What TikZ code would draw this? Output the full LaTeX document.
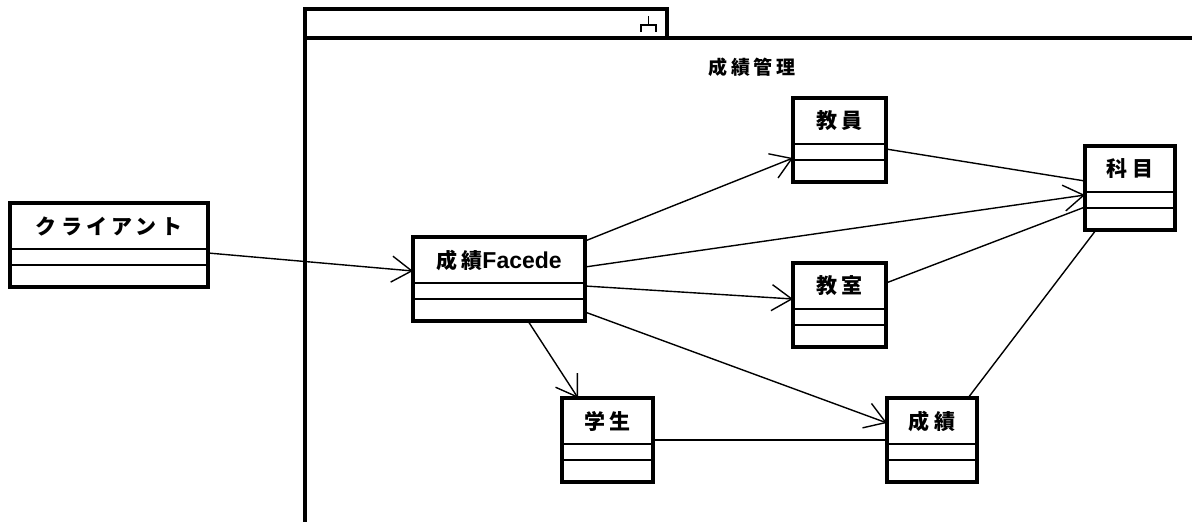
\documentclass[tikz,border=0pt]{standalone}
\usepackage{fontspec}
\setmainfont{Liberation Sans}
\newfontfamily\jp[LetterSpace=20]{Noto Sans CJK JP}
\usetikzlibrary{calc,arrows.meta}
\tikzset{
	classbox/.style={draw, line width=3.5pt, minimum height=84pt, inner sep=0pt, outer sep=0pt},
	classname/.style={font=\jp\bfseries\fontsize{21}{21}\selectfont, inner sep=0pt},
	divider/.style={line width=2.5pt},
	assoc/.style={line width=1.4pt},
	nav/.style={assoc, -{Straight Barb[length=20pt,width=26pt,line width=1.4pt]}}
}
\def\umlclass(#1)(#2,#3)(#4)#5{%
	\node[classbox, minimum width=#4pt] (#1) at (#2,#3) {};
	\node[classname] (#1-name) at ([yshift=-23pt]#1.north) {#5};
	\draw[divider] ([yshift=-46pt]#1.north west) -- ([yshift=-46pt]#1.north east);
	\draw[divider] ([yshift=-62pt]#1.north west) -- ([yshift=-62pt]#1.north east);
}

\begin{document}
\begin{tikzpicture}[x=1pt, y=-1pt]
			%%%%% START %%%%%
			\useasboundingbox (0,0) rectangle (1192,522);
			
			\draw[line width=3.5pt] (305,522) -- (305,9) -- (667,9) -- (667,38);
			\draw[line width=3.5pt] (305,38) -- (1192,38);
			\draw[line width=1.5pt] (641,32) -- (641,25) -- (656,25) -- (656,32);
			\draw[line width=1.5pt] (648.5,25) -- (648.5,16);
			\node[classname, font=\jp\bfseries\fontsize{19}{19}\selectfont] (pkg-name) at (752,67) {成績管理};
			
			\umlclass(client)(109,245)(198){クライアント}
			\umlclass(facade)(499,279)(172){成績{\rmfamily\fontsize{23}{23}\selectfont Facede}}
			\umlclass(teacher)(839.5,140)(93){教員}
			\umlclass(room)(839.5,305)(93){教室}
			\umlclass(subject)(1130,188)(90){科目}
			\umlclass(student)(607.5,440)(91){学生}
			\umlclass(grade)(932,440)(90){成績}
			
			\draw[nav] ([yshift=-8pt]client.east) -- ([yshift=8pt]facade.west);
			\draw[nav] ([yshift=38pt]facade.east) -- ([yshift=-18pt]teacher.west);
			\draw[nav] ([yshift=12pt]facade.east) -- ([yshift=-7pt]subject.west);
			\draw[nav] ([yshift=-7pt]facade.east) -- ([yshift=6pt]room.west);
			\draw[nav] ([yshift=-33pt]facade.east) -- ([yshift=17pt]grade.west);
			\draw[nav] ([xshift=29pt]facade.south) -- ([xshift=-29.5pt]student.north);
			
			\draw[assoc] ([yshift=-9pt]teacher.east) -- ([yshift=7pt]subject.west);
			\draw[assoc] ([yshift=22pt]room.east) -- ([yshift=-19pt]subject.west);
			\draw[assoc] (student.east) -- (grade.west);
			\draw[assoc] ([xshift=36pt]grade.north) -- ([xshift=-34pt]subject.south);
			
			%%%%% END %%%%%
\end{tikzpicture}
\end{document}
